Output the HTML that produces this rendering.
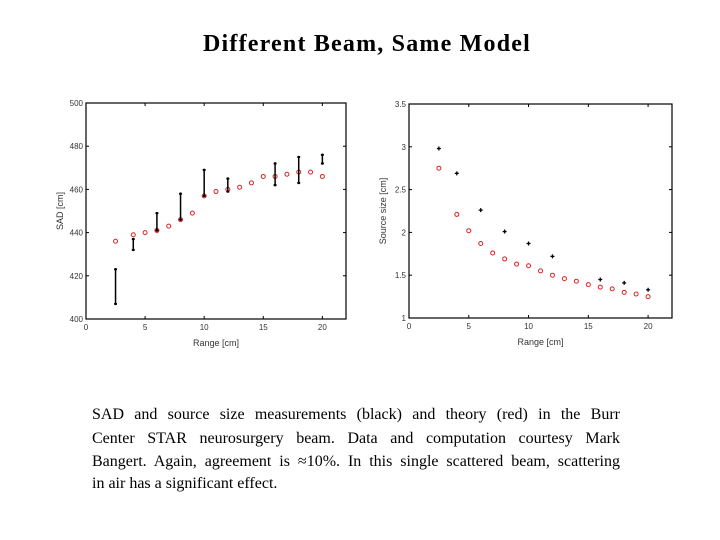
<!DOCTYPE html>
<html><head><meta charset="utf-8"><style>
body{margin:0;width:720px;height:540px;background:#fff;overflow:hidden;position:relative;font-family:"Liberation Serif",serif}
#title{position:absolute;left:0;width:734px;top:31px;text-align:center;font-size:24px;font-weight:bold;letter-spacing:1.2px}
.cap{position:absolute;left:92px;width:528px;font-size:16px;line-height:20px;white-space:nowrap}
.j{text-align:justify;text-align-last:justify;white-space:normal}
svg{position:absolute;left:0;top:0}
</style></head><body>
<div id="title">Different Beam, Same Model</div>
<svg id="chart" width="720" height="540"></svg>
<div class="cap j" style="top:405px">SAD and source size measurements (black) and theory (red) in the Burr</div>
<div class="cap j" style="top:429px">Center STAR neurosurgery beam. Data and computation courtesy Mark</div>
<div class="cap j" style="top:452px">Bangert. Again, agreement is ≈10%. In this single scattered beam, scattering</div>
<div class="cap" style="top:474px">in air has a significant effect.</div>
<script>
const theoryX=[2.5,4,5,6,7,8,9,10,11,12,13,14,15,16,17,18,19,20];
const sadTheory=[436,439,440,441,443,446,449,457,459,460,461,463,466,466,467,468,468,466];
const measX=[2.5,4,6,8,10,12,16,18,20];
const sadLow=[407,432,441,446,457,459,462,463,472];
const sadHigh=[423,437,449,458,469,465,472,475,476];
const sizeTheory=[2.75,2.21,2.02,1.87,1.76,1.69,1.63,1.61,1.55,1.50,1.46,1.43,1.39,1.36,1.34,1.30,1.28,1.25];
const sizeMeas=[2.98,2.69,2.26,2.01,1.87,1.72,1.45,1.41,1.33];
const xTicks=[0,5,10,15,20];
const sadTicks=[400,420,440,460,480,500];
const sizeTicks=[1,1.5,2,2.5,3,3.5];
const sizeTickLabels=["1","1.5","2","2.5","3","3.5"];
const NS="http://www.w3.org/2000/svg";
const svg=document.getElementById('chart');
function el(t,a,p){const e=document.createElementNS(NS,t);for(const k in a)e.setAttribute(k,a[k]);(p||svg).appendChild(e);return e;}
function panel(name,L,R,T,B,ymin,ymax,yt,ytl,ylabel){
  const g=el('g',{});
  
  
  const sx=v=>L+(R-L)*v/22, sy=v=>B-(B-T)*(v-ymin)/(ymax-ymin);
  const box=el('rect',{x:L,y:T,width:R-L,height:B-T,fill:'none',stroke:'#000','stroke-width':1.2},g);
  
  
  xTicks.forEach(v=>{const x=sx(v);
    el('line',{x1:x,x2:x,y1:B,y2:B-3,stroke:'#000'},g);el('line',{x1:x,x2:x,y1:T,y2:T+3,stroke:'#000'},g);
    const t=el('text',{x:x,y:B+11,'font-size':8,'text-anchor':'middle','font-family':'Liberation Sans, sans-serif',fill:'#333'},g);t.textContent=v;
    
    });
  yt.forEach((v,i)=>{const y=sy(v);
    el('line',{x1:L,x2:L+3,y1:y,y2:y,stroke:'#000'},g);el('line',{x1:R,x2:R-3,y1:y,y2:y,stroke:'#000'},g);
    const t=el('text',{x:L-3,y:y+3,'font-size':8,'text-anchor':'end','font-family':'Liberation Sans, sans-serif',fill:'#333'},g);t.textContent=ytl[i];
    
    });
  const xl=el('text',{x:(L+R)/2,y:B+27,'font-size':9,'text-anchor':'middle','font-family':'Liberation Sans, sans-serif',fill:'#333'},g);xl.textContent='Range [cm]';
  
  
  const yy=(T+B)/2, yx=L-23;
  const yl=el('text',{x:yx,y:yy,'font-size':9,'text-anchor':'middle','font-family':'Liberation Sans, sans-serif',fill:'#333',transform:`rotate(-90 ${yx} ${yy})`},g);yl.textContent=ylabel;
  
  
  return {g,sx,sy};
}
const P1=panel('sad-chart',86,346,103,319,400,500,sadTicks,sadTicks.map(String),'SAD [cm]');
theoryX.forEach((x,i)=>{const c=el('circle',{cx:P1.sx(x),cy:P1.sy(sadTheory[i]),r:2,fill:'none',stroke:'#d22','stroke-width':1},P1.g);
  
  });
measX.forEach((x,i)=>{const X=P1.sx(x),y1=P1.sy(sadLow[i]),y2=P1.sy(sadHigh[i]);
  const l=el('line',{x1:X,x2:X,y1:y1,y2:y2,stroke:'#000','stroke-width':1.5},P1.g);
  
  
  [y1,y2].forEach(y=>{el('line',{x1:X-1.5,x2:X+1.5,y1:y,y2:y,stroke:'#000','stroke-width':1.5},P1.g);el('circle',{cx:X,cy:y,r:1.3,fill:'#000'},P1.g);});});
const P2=panel('source-size-chart',409,672,104,318,1,3.5,sizeTicks,sizeTickLabels,'Source size [cm]');
theoryX.forEach((x,i)=>{const c=el('circle',{cx:P2.sx(x),cy:P2.sy(sizeTheory[i]),r:2,fill:'none',stroke:'#d22','stroke-width':1},P2.g);
  
  });
measX.forEach((x,i)=>{const X=P2.sx(x),Y=P2.sy(sizeMeas[i]);
  const p=el('path',{d:`M${X-2} ${Y}H${X+2}M${X} ${Y-2}V${Y+2}`,stroke:'#000','stroke-width':1.3},P2.g);
  
  });
</script>
</body></html>
